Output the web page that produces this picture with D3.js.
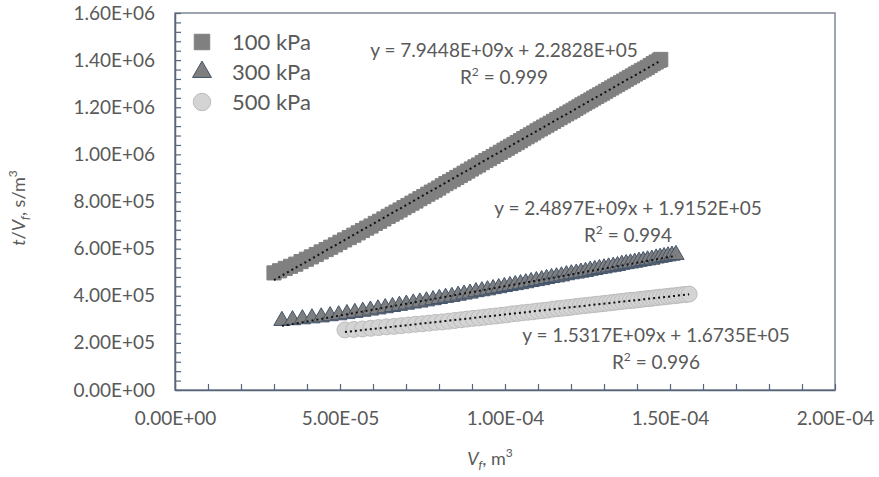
<!doctype html>
<html>
    <head>
        <script src="https://d3js.org/d3.v7.min.js"></script>
        <style>
            body,
            html {
                margin: 0;
                padding: 0;
                overflow: hidden;
                background: #fff;
            }
            text {
                font-family: Lato, "Open Sans", sans-serif;
                fill: #595959;
            }
        </style>
    </head>
    <body>
        <script>
            // filtrate volume Vf in 1e-5 m3, t/Vf in 1e5 s/m3
            const vf100 = [
                3.00, 3.17, 3.34, 3.50, 3.66, 3.82, 3.98,
                4.13, 4.28, 4.43, 4.58, 4.72, 4.86, 5.00, 5.14, 5.28, 5.42, 5.55, 5.68, 5.81, 5.94,
                6.07, 6.20, 6.33, 6.46, 6.58, 6.70, 6.82, 6.94, 7.06, 7.18, 7.30, 7.42, 7.54, 7.66, 7.77, 7.88, 7.99,
                8.10, 8.21, 8.32, 8.43, 8.54, 8.65, 8.76, 8.87, 8.98, 9.09, 9.20, 9.31, 9.42, 9.53, 9.64, 9.75, 9.86, 9.97,
                10.07, 10.17, 10.27, 10.37, 10.47, 10.57, 10.67, 10.77, 10.87, 10.97, 11.07, 11.17, 11.27, 11.37, 11.47, 11.57, 11.67, 11.77, 11.87, 11.97,
                12.06, 12.15, 12.24, 12.33, 12.42, 12.51, 12.60, 12.69, 12.78, 12.87, 12.96, 13.05, 13.14, 13.23, 13.32, 13.41, 13.50, 13.59, 13.68, 13.77, 13.86, 13.95, 14.04, 14.13, 14.22, 14.31, 14.40, 14.49, 14.58, 14.67, 14.72,
            ];
            const tv100 = [
                4.97, 5.06, 5.16, 5.25, 5.34, 5.45, 5.55,
                5.65, 5.75, 5.86, 5.96, 6.06, 6.16, 6.27, 6.37, 6.47, 6.57, 6.67, 6.77, 6.87, 6.96,
                7.07, 7.16, 7.26, 7.37, 7.46, 7.55, 7.64, 7.74, 7.83, 7.93, 8.02, 8.12, 8.21, 8.31, 8.40, 8.48, 8.57,
                8.67, 8.76, 8.84, 8.93, 9.02, 9.11, 9.20, 9.29, 9.38, 9.47, 9.55, 9.65, 9.74, 9.82, 9.91, 10.00, 10.09, 10.18,
                10.26, 10.34, 10.42, 10.50, 10.58, 10.67, 10.75, 10.83, 10.91, 11.00, 11.08, 11.16, 11.24, 11.32, 11.40, 11.48, 11.56, 11.64, 11.72, 11.80,
                11.87, 11.95, 12.02, 12.10, 12.17, 12.24, 12.31, 12.39, 12.46, 12.53, 12.60, 12.68, 12.75, 12.82, 12.90, 12.97, 13.04, 13.11, 13.19, 13.26, 13.33, 13.41, 13.48, 13.55, 13.62, 13.69, 13.77, 13.85, 13.92, 13.99, 14.03,
            ];

            const vf300 = [3.24, 3.56, 3.86, 4.15, 4.43, 4.70, 4.96, 5.21, 5.45, 5.69, 5.92, 6.15, 6.37, 6.59, 6.80, 7.01, 7.22, 7.42, 7.62, 7.82, 8.01, 8.20, 8.39, 8.58, 8.76, 8.94, 9.12, 9.30, 9.47, 9.64, 9.81, 9.98, 10.15, 10.31, 10.47, 10.63, 10.79, 10.95, 11.11, 11.26, 11.41, 11.56, 11.71, 11.86, 12.01, 12.16, 12.30, 12.44, 12.58, 12.72, 12.86, 13.00, 13.14, 13.28, 13.41, 13.54, 13.67, 13.80, 13.93, 14.06, 14.19, 14.32, 14.45, 14.58, 14.70, 14.82, 14.94, 15.06, 15.18];
            const tv300 = [2.94, 2.97, 3.01, 3.05, 3.09, 3.14, 3.18, 3.23, 3.28, 3.33, 3.38, 3.43, 3.48, 3.53, 3.58, 3.63, 3.68, 3.72, 3.77, 3.82, 3.87, 3.92, 3.96, 4.01, 4.06, 4.10, 4.16, 4.20, 4.24, 4.29, 4.33, 4.38, 4.42, 4.46, 4.50, 4.54, 4.59, 4.63, 4.67, 4.72, 4.76, 4.79, 4.83, 4.88, 4.92, 4.95, 4.99, 5.02, 5.07, 5.10, 5.14, 5.17, 5.21, 5.24, 5.27, 5.32, 5.35, 5.38, 5.41, 5.45, 5.48, 5.51, 5.54, 5.59, 5.62, 5.65, 5.68, 5.71, 5.74];

            const vf500 = [5.15, 5.42, 5.68, 5.93, 6.17, 6.41, 6.64, 6.86, 7.08, 7.29, 7.50, 7.70, 7.90, 8.10, 8.29, 8.48, 8.67, 8.85, 9.03, 9.21, 9.38, 9.55, 9.72, 9.89, 10.05, 10.21, 10.37, 10.53, 10.69, 10.84, 10.99, 11.14, 11.29, 11.44, 11.58, 11.72, 11.86, 12.00, 12.14, 12.28, 12.41, 12.54, 12.67, 12.80, 12.93, 13.06, 13.19, 13.31, 13.43, 13.55, 13.67, 13.79, 13.91, 14.03, 14.15, 14.26, 14.37, 14.48, 14.59, 14.70, 14.81, 14.92, 15.03, 15.14, 15.25, 15.36, 15.47, 15.58];
            const tv500 = [2.55, 2.57, 2.59, 2.62, 2.65, 2.68, 2.70, 2.73, 2.76, 2.79, 2.81, 2.84, 2.87, 2.89, 2.92, 2.95, 2.98, 3.01, 3.04, 3.06, 3.09, 3.12, 3.14, 3.17, 3.19, 3.23, 3.25, 3.28, 3.30, 3.32, 3.35, 3.37, 3.39, 3.43, 3.45, 3.47, 3.49, 3.51, 3.54, 3.56, 3.58, 3.60, 3.62, 3.64, 3.66, 3.68, 3.70, 3.72, 3.74, 3.76, 3.78, 3.80, 3.81, 3.83, 3.85, 3.87, 3.88, 3.90, 3.92, 3.94, 3.95, 3.97, 3.99, 4.00, 4.02, 4.04, 4.05, 4.07];

            const seriesNames = ["100 kPa", "300 kPa", "500 kPa"];
            const slopes = [7.9448e9, 2.4897e9, 1.5317e9];
            const intercepts = [2.2828e5, 1.9152e5, 1.6735e5];
            const rSquared = [0.999, 0.994, 0.996];

            const xTicks = [0, 5e-5, 1e-4, 1.5e-4, 2e-4];
            const yTicks = [0, 2e5, 4e5, 6e5, 8e5, 1e6, 1.2e6, 1.4e6, 1.6e6];

            const width = 879;
            const height = 477;
            const margin = { top: 13, right: 44, bottom: 87, left: 175 };

            const series = [
                { vf: vf100, tv: tv100, shape: d3.symbolSquare, size: 200, fill: "#808080", stroke: "#808080" },
                { vf: vf300, tv: tv300, shape: d3.symbolTriangle, size: 115, fill: "#7f7f7f", stroke: "#44546a" },
                { vf: vf500, tv: tv500, shape: d3.symbolCircle, size: 200, fill: "#d4d4d4", stroke: "#bcbcbc" },
            ].map((s, i) => ({
                ...s,
                name: seriesNames[i],
                slope: slopes[i],
                intercept: intercepts[i],
                r2: rSquared[i],
                points: s.vf.map((v, j) => [v * 1e-5, s.tv[j] * 1e5]),
            }));

            const svg = d3
                .create("svg")
                .attr("width", width)
                .attr("height", height)
                .attr("viewBox", [0, 0, width, height]);

            const x = d3
                .scaleLinear()
                .domain([0, 2e-4])
                .range([margin.left, width - margin.right]);
            const y = d3
                .scaleLinear()
                .domain([0, 1.6e6])
                .range([height - margin.bottom, margin.top]);

            // excel style 1.60E+06
            function sci(v, d) {
                if (v === 0) return (0).toFixed(d) + "E+00";
                let e = Math.floor(Math.log10(Math.abs(v)));
                let m = v / Math.pow(10, e);
                if (+m.toFixed(d) >= 10) {
                    e += 1;
                    m = v / Math.pow(10, e);
                }
                const ee = String(Math.abs(e)).padStart(2, "0");
                return m.toFixed(d) + "E" + (e < 0 ? "-" : "+") + ee;
            }

            const axisColor = "#56657a";

            // plot border (top / right)
            svg.append("rect")
                .attr("x", x(0))
                .attr("y", y(1.6e6))
                .attr("width", x(2e-4) - x(0))
                .attr("height", y(0) - y(1.6e6))
                .attr("fill", "none")
                .attr("stroke", "#7f8896")
                .attr("stroke-width", 1.5);

            // minor ticks
            const yMinor = d3.range(0, 1.6e6 + 1, 4e4);
            const xMinor = d3.range(0, 2e-4 + 1e-9, 1e-5);

            svg.append("g")
                .attr("transform", `translate(${x(0)},0)`)
                .call(d3.axisLeft(y).tickValues(yMinor).tickSize(-6).tickFormat(""))
                .call((g) => g.select(".domain").remove())
                .call((g) => g.selectAll("line").attr("stroke", axisColor).attr("stroke-width", 1.2));

            svg.append("g")
                .attr("transform", `translate(0,${y(0)})`)
                .call(d3.axisBottom(x).tickValues(xMinor).tickSize(-6).tickFormat(""))
                .call((g) => g.select(".domain").remove())
                .call((g) => g.selectAll("line").attr("stroke", axisColor).attr("stroke-width", 1.2));

            // y axis
            const yAxis = svg
                .append("g")
                .attr("transform", `translate(${x(0)},0)`)
                .call(
                    d3.axisLeft(y)
                        .tickValues(yTicks)
                        .tickSize(0)
                        .tickPadding(20)
                        .tickFormat((d) => sci(d, 2))
                );
            yAxis.select(".domain").attr("stroke", axisColor).attr("stroke-width", 1.5);
            yAxis.selectAll("text")
                .attr("font-size", 19)
                .attr("font-family", "Lato")
                .attr("fill", "#595959");

            // x axis
            const xAxis = svg
                .append("g")
                .attr("transform", `translate(0,${y(0)})`)
                .call(
                    d3.axisBottom(x)
                        .tickValues(xTicks)
                        .tickSize(0)
                        .tickPadding(22)
                        .tickFormat((d) => sci(d, 2))
                );
            xAxis.select(".domain").attr("stroke", axisColor).attr("stroke-width", 1.5);
            xAxis.selectAll("text")
                .attr("font-size", 19)
                .attr("font-family", "Lato")
                .attr("fill", "#595959");

            // markers
            series.forEach((s) => {
                svg.append("g")
                    .selectAll("path")
                    .data(s.points)
                    .join("path")
                    .attr("transform", (d) => `translate(${x(d[0])},${y(d[1])})`)
                    .attr("d", d3.symbol(s.shape, s.size))
                    .attr("fill", s.fill)
                    .attr("stroke", s.stroke)
                    .attr("stroke-width", 1);
            });

            // linear trendlines
            series.forEach((s) => {
                const x0 = d3.min(s.points, (d) => d[0]);
                const x1 = d3.max(s.points, (d) => d[0]);
                svg.append("line")
                    .attr("x1", x(x0))
                    .attr("y1", y(s.slope * x0 + s.intercept))
                    .attr("x2", x(x1))
                    .attr("y2", y(s.slope * x1 + s.intercept))
                    .attr("stroke", "#111")
                    .attr("stroke-width", 2)
                    .attr("stroke-dasharray", "2 3");
            });

            // trendline labels
            const labelPos = [
                [504, 57],
                [628, 215],
                [656, 342],
            ];
            series.forEach((s, i) => {
                const [lx, ly] = labelPos[i];
                svg.append("text")
                    .attr("x", lx)
                    .attr("y", ly)
                    .attr("text-anchor", "middle")
                    .attr("font-size", 19)
                    .text(`y = ${sci(s.slope, 4)}x + ${sci(s.intercept, 4)}`);
                const r = svg.append("text")
                    .attr("x", lx)
                    .attr("y", ly + 27)
                    .attr("text-anchor", "middle")
                    .attr("font-size", 19);
                r.append("tspan").text("R");
                r.append("tspan").attr("font-size", 12).attr("dy", -8).text("2");
                r.append("tspan").attr("dy", 8).text(` = ${s.r2.toFixed(3)}`);
            });

            // legend
            const legend = svg.append("g").attr("transform", "translate(202,42)");
            series.forEach((s, i) => {
                legend.append("path")
                    .attr("transform", `translate(0,${i * 30})`)
                    .attr("d", d3.symbol(s.shape, s.size + 40))
                    .attr("fill", s.fill)
                    .attr("stroke", s.stroke);
                legend.append("text")
                    .attr("x", 30)
                    .attr("y", i * 30 + 8)
                    .attr("font-size", 22)
                    .text(s.name);
            });

            // axis titles
            const xt = svg.append("text")
                .attr("x", 490)
                .attr("y", 465)
                .attr("text-anchor", "middle")
                .attr("font-size", 18);
            xt.append("tspan").attr("font-style", "italic").text("V");
            xt.append("tspan").attr("font-style", "italic").attr("font-size", 12).attr("dy", 4).text("f");
            xt.append("tspan").attr("dy", -4).text(", m");
            xt.append("tspan").attr("font-size", 12).attr("dy", -8).text("3");

            const yt = svg.append("text")
                .attr("transform", "translate(25,208) rotate(-90)")
                .attr("text-anchor", "middle")
                .attr("font-size", 18);
            yt.append("tspan").attr("font-style", "italic").text("t");
            yt.append("tspan").text("/");
            yt.append("tspan").attr("font-style", "italic").text("V");
            yt.append("tspan").attr("font-style", "italic").attr("font-size", 12).attr("dy", 4).text("f");
            yt.append("tspan").attr("dy", -4).text(", s/m");
            yt.append("tspan").attr("font-size", 12).attr("dy", -8).text("3");

            document.body.appendChild(svg.node());
        </script>
    </body>
</html>
